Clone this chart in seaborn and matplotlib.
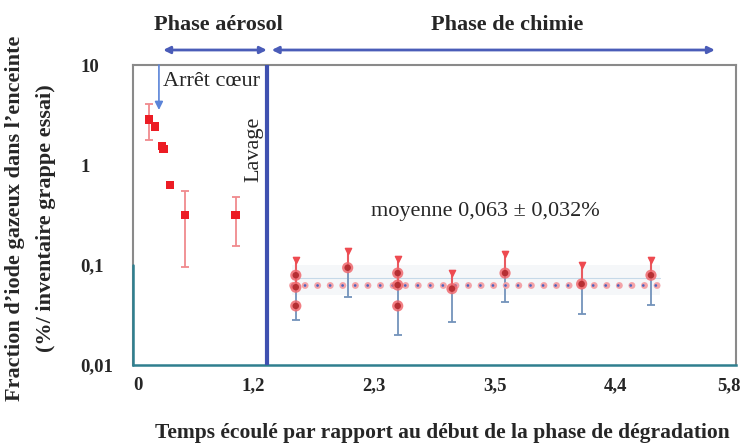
import numpy as np
import pandas as pd
import matplotlib
matplotlib.use("Agg")
import matplotlib.pyplot as plt
import matplotlib.transforms as mtransforms
import seaborn as sns

# --- data -----------------------------------------------------------------
# x positions are expressed in tick units (ticks 0..10), labelled below
tick_pos = [0, 2, 4, 6, 8, 10]
tick_labels = ["0", "1,2", "2,3", "3,5", "4,4", "5,8"]

# aerosol phase measurements
aero_x = [0.265, 0.365, 0.48, 0.51, 0.61, 0.86, 1.70]
aero_y = [2.86, 2.42, 1.55, 1.45, 0.63, 0.316, 0.316]
aero_err_x = [0.265, 0.86, 1.70]
aero_err_lo = [1.78, 0.095, 0.155]
aero_err_hi = [4.05, 0.55, 0.48]

# chemistry phase measurements
chem_x = [2.70, 2.70, 2.70, 3.56, 4.39, 4.39, 4.39, 5.29, 6.17, 7.44, 8.59]
chem_y = [0.079, 0.060, 0.039, 0.094, 0.083, 0.063, 0.039, 0.058, 0.083, 0.0646, 0.079]
chem_err_x = [2.70, 3.56, 4.39, 5.29, 6.17, 7.44, 8.59]
chem_err_mid = [0.063, 0.094, 0.063, 0.058, 0.083, 0.0646, 0.079]
chem_err_lo = [0.028, 0.048, 0.020, 0.027, 0.043, 0.0324, 0.040]
chem_err_hi = [0.112, 0.138, 0.116, 0.083, 0.128, 0.100, 0.112]

mean_value = 0.063
mean_span = [2.64, 8.74]
lavage_x = 2.22
arret_x = 0.43
arret_tip = 3.55
aerosol_span = [0.50, 2.22]
chimie_span = [2.30, 9.65]

# --- style ----------------------------------------------------------------
sns.set_theme(style="white")
plt.rcParams["font.family"] = ["Liberation Serif", "DejaVu Serif"]

PINK = "#f4a3a8"
BLUE = "#3f51b0"
LBLUE = "#5b84d8"
TEAL = "#2f7f8f"
GREY = "#8a8a8a"

fig = plt.figure(figsize=(7.47, 4.45), dpi=100)
ax = fig.add_axes([133 / 747, 80 / 445, 603 / 747, 300 / 445])
ax.set_yscale("log")
ax.set_xlim(0, 10)
ax.set_ylim(0.01, 10)

# faint band around the chemistry-phase average
ax.fill_between(mean_span, [0.05, 0.05], [0.1, 0.1], color="#e3e9f0", alpha=0.35, lw=0)
ax.plot(mean_span, [0.074, 0.074], color="#c6d9e8", lw=0.8)

# mean line: pink dots with blue centres
ax.plot(mean_span, [mean_value, mean_value], color=PINK, lw=5,
        ls=(0, (0.01, 1.8)), dash_capstyle="round", zorder=3)
ax.plot(mean_span, [mean_value, mean_value], color="#4a63c0", lw=2,
        ls=(0, (0.01, 4.5)), dash_capstyle="round", zorder=3)

# error bars, aerosol phase
ax.vlines(aero_err_x, aero_err_lo, aero_err_hi, color="#f08a8e", lw=1.3, zorder=2)
ax.scatter(aero_err_x, aero_err_lo, marker="_", s=40, color="#f08a8e", lw=1.3, zorder=2)
ax.scatter(aero_err_x, aero_err_hi, marker="_", s=40, color="#f08a8e", lw=1.3, zorder=2)

# error bars, chemistry phase (red upper half, blue lower half)
ax.vlines(chem_err_x, chem_err_mid, chem_err_hi, color="#e85a60", lw=1.5, zorder=2)
ax.vlines(chem_err_x, chem_err_lo, chem_err_mid, color="#7393bb", lw=1.3, zorder=2)
ax.scatter(chem_err_x, chem_err_hi, marker="v", s=20, color="#ee4a50", zorder=2)
ax.scatter(chem_err_x, chem_err_lo, marker="_", s=30, color="#7393bb", lw=1.3, zorder=2)

aero_df = pd.DataFrame({"x": aero_x, "y": aero_y})
chem_df = pd.DataFrame({"x": chem_x, "y": chem_y})
sns.scatterplot(data=aero_df, x="x", y="y", marker="s", s=38, color="#ec1c24",
                edgecolor="none", ax=ax, zorder=4)
sns.scatterplot(data=chem_df, x="x", y="y", marker="o", s=65, color="#f0686d",
                edgecolor="none", alpha=0.85, ax=ax, zorder=4)
sns.scatterplot(data=chem_df, x="x", y="y", marker="o", s=22, color="#b0282c",
                edgecolor="none", alpha=0.9, ax=ax, zorder=5)

# "Lavage" vertical line
ax.axvline(lavage_x, color=BLUE, lw=3, zorder=6)
ax.text(lavage_x - 0.05, 1.45, "Lavage", rotation=90, ha="right", va="center",
        fontsize=16)

# "Arrêt cœur" arrow
ax.annotate("", xy=(arret_x, arret_tip), xytext=(arret_x, 10),
            arrowprops=dict(arrowstyle="-|>", color=LBLUE, lw=1.2,
                            mutation_scale=12, shrinkA=0, shrinkB=0))
ax.text(arret_x + 0.07, 6.8, "Arrêt cœur", ha="left", va="center", fontsize=16)

ax.text(5.85, 0.34, "moyenne 0,063 ± 0,032%", ha="center", va="center", fontsize=16)

# phase arrows above the frame
trans = mtransforms.blended_transform_factory(ax.transData, ax.transAxes)
for span in (aerosol_span, chimie_span):
    ax.annotate("", xy=(span[1], 1.05), xytext=(span[0], 1.05),
                xycoords=trans, textcoords=trans, annotation_clip=False,
                arrowprops=dict(arrowstyle="<|-|>", color="#4a5cb8", lw=2,
                                mutation_scale=10, shrinkA=0, shrinkB=0))
fig.text(218 / 747, 1 - 25 / 445, "Phase aérosol", ha="center", va="center",
         fontsize=16, fontweight="bold")
fig.text(507 / 747, 1 - 25 / 445, "Phase de chimie", ha="center", va="center",
         fontsize=16, fontweight="bold")

# axes frame
for side in ("top", "right", "left"):
    ax.spines[side].set_color(GREY)
    ax.spines[side].set_linewidth(1.5)
ax.spines["bottom"].set_color(TEAL)
ax.spines["bottom"].set_linewidth(1.8)
ax.axvline(0, ymin=0, ymax=1 / 3, color=TEAL, lw=1.8, zorder=6, clip_on=False)

ax.set_xticks(range(0, 11))
ax.set_xticklabels([tick_labels[tick_pos.index(t)] if t in tick_pos else ""
                    for t in range(0, 11)])
ax.set_yticks([0.01, 0.1, 1, 10])
ax.set_yticklabels(["0,01", "0,1", "1", "10"])
ax.minorticks_off()
ax.tick_params(axis="x", direction="inout", length=6, width=1.2, color="#1f4f5a",
               labelsize=13.5, pad=6)
ax.tick_params(axis="y", direction="inout", length=6, width=1.2, color="#555555",
               labelsize=13.5, pad=35)
for lab in ax.get_xticklabels() + ax.get_yticklabels():
    lab.set_fontweight("bold")
for lab in ax.get_yticklabels():
    lab.set_horizontalalignment("left")

# nudge the end labels inward, away from the frame corners
xlabs = ax.get_xticklabels()
xlabs[0].set_transform(xlabs[0].get_transform() +
                       mtransforms.ScaledTranslation(5 / 100, 0, fig.dpi_scale_trans))
xlabs[-1].set_transform(xlabs[-1].get_transform() +
                        mtransforms.ScaledTranslation(-7 / 100, 0, fig.dpi_scale_trans))
ax.set_xlabel("")
ax.set_ylabel("")

fig.text(442 / 747, 1 - 433 / 445,
         "Temps écoulé par rapport au début de la phase de dégradation",
         ha="center", va="center", fontsize=15.5, fontweight="bold")
fig.text(15 / 747, 0.51, "Fraction d’iode gazeux dans l’enceinte", rotation=90,
         ha="center", va="center", fontsize=16, fontweight="bold")
fig.text(46 / 747, 0.51, "(%/ inventaire grappe essai)", rotation=90,
         ha="center", va="center", fontsize=16, fontweight="bold")

fig.savefig("out.png", dpi=100)
